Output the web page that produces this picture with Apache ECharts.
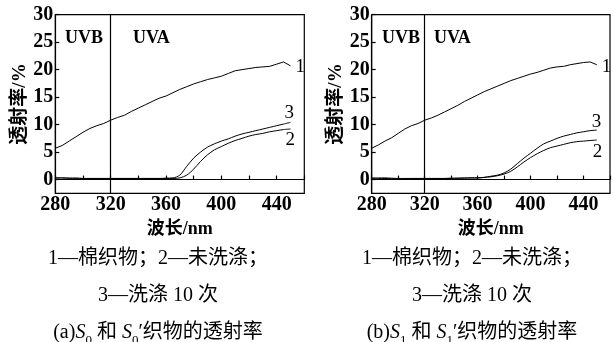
<!DOCTYPE html>
<html lang="zh">
<head>
    <meta charset="UTF-8">
    <title>透射率</title>
    <script src="https://cdn.jsdelivr.net/npm/echarts@6.0.0/dist/echarts.min.js"></script>
    <style>
        * {
            margin: 0;
            padding: 0
        }

        html, body {
            width: 100%;
            height: 100%;
            background: #fff;
        }

        #main {
            width: 613px;
            height: 342px;
        }
    </style>
</head>
<body>
<div id="main"></div>
<script type="text/javascript">
    // 波长 (nm)
    var waveLen = [280, 285, 290, 295, 300, 305, 310, 315, 320, 325, 330, 335, 340, 345, 350, 355, 360,
        365, 370, 375, 380, 385, 390, 395, 400, 405, 410, 415, 420, 425, 430, 435, 440, 445, 450];

    // (a) S0 / S0'
    var cottonA = [5.7, 6.2, 7.0, 7.8, 8.6, 9.3, 9.8, 10.2, 10.8, 11.3, 11.7, 12.4, 13.0, 13.6, 14.2, 14.8, 15.2,
        15.8, 16.4, 16.9, 17.4, 17.8, 18.2, 18.5, 18.8, 19.3, 19.8, 20.0, 20.2, 20.4, 20.5, 20.6, 21.0, 21.4, 20.7];
    var unwashedA = [0.3, 0.3, 0.25, 0.25, 0.2, 0.2, 0.2, 0.2, 0.2, 0.2, 0.2, 0.2, 0.2, 0.2, 0.2, 0.2, 0.2,
        0.2, 0.3, 0.8, 1.9, 3.3, 4.5, 5.4, 6.0, 6.6, 7.1, 7.5, 7.9, 8.2, 8.4, 8.7, 8.9, 9.1, 9.2];
    var washedA = [0.3, 0.3, 0.25, 0.25, 0.2, 0.2, 0.2, 0.2, 0.2, 0.2, 0.2, 0.2, 0.2, 0.2, 0.2, 0.2, 0.25,
        0.3, 0.8, 2.4, 3.9, 5.0, 5.9, 6.5, 7.0, 7.4, 7.9, 8.3, 8.6, 8.9, 9.2, 9.5, 9.8, 10.1, 10.4];

    // (b) S1 / S1'
    var cottonB = [5.7, 6.3, 7.0, 7.6, 8.4, 9.2, 9.8, 10.2, 10.8, 11.2, 11.7, 12.3, 12.9, 13.5, 14.2, 14.8, 15.4,
        16.0, 16.5, 17.0, 17.5, 18.0, 18.4, 18.8, 19.2, 19.5, 19.9, 20.3, 20.5, 20.6, 20.9, 21.1, 21.3, 21.4, 20.9];
    var unwashedB = [0.2, 0.2, 0.2, 0.15, 0.15, 0.15, 0.2, 0.2, 0.2, 0.2, 0.2, 0.2, 0.2, 0.25, 0.25, 0.3, 0.3,
        0.4, 0.5, 0.7, 1.0, 1.5, 2.3, 3.2, 4.0, 4.7, 5.3, 5.8, 6.1, 6.4, 6.7, 6.9, 7.0, 7.1, 7.2];
    var washedB = [0.3, 0.3, 0.3, 0.25, 0.2, 0.2, 0.2, 0.2, 0.2, 0.2, 0.2, 0.2, 0.25, 0.25, 0.3, 0.3, 0.3,
        0.4, 0.6, 0.8, 1.2, 1.9, 2.9, 3.9, 4.8, 5.7, 6.5, 7.0, 7.5, 7.9, 8.2, 8.5, 8.7, 8.9, 9.0];

    var xTicks = [280, 320, 360, 400, 440];
    var yTicks = [0, 5, 10, 15, 20, 25, 30];
    var uvBorder = 320;

    var serif = '"Liberation Serif", "Times New Roman", serif';
    var mixed = '"Liberation Serif", "Noto Sans CJK SC", serif';

    function makeX(idx) {
        return {
            type: 'value', gridIndex: idx, min: 280, max: 460, interval: 20,
            name: '波长/nm', nameLocation: 'middle', nameGap: 16,
            nameTextStyle: {fontFamily: mixed, fontWeight: 'bold', fontSize: 18, color: '#000'},
            axisLine: {lineStyle: {color: '#000', width: 1.2}},
            axisTick: {inside: true, length: 4, lineStyle: {color: '#000', width: 1.2}},
            axisLabel: {
                color: '#000', fontFamily: serif, fontWeight: 'bold', fontSize: 20, margin: 2,
                formatter: function (v) {
                    return xTicks.indexOf(v) >= 0 ? String(v) : '';
                }
            },
            splitLine: {show: false}
        };
    }

    function makeY(idx) {
        return {
            type: 'value', gridIndex: idx, min: -2.5, max: 30,
            name: '透射率/%', nameLocation: 'middle', nameGap: 25,
            nameTextStyle: {fontFamily: mixed, fontWeight: 'bold', fontSize: 19, color: '#000'},
            axisLine: {lineStyle: {color: '#000', width: 1.2}},
            axisTick: {inside: true, length: 4, customValues: yTicks, lineStyle: {color: '#000', width: 1.2}},
            axisLabel: {color: '#000', fontFamily: serif, fontWeight: 'bold', fontSize: 20, margin: 2, customValues: yTicks},
            splitLine: {show: false}
        };
    }

    function line(idx, vals, lbl, off, withBorder) {
        var s = {
            type: 'line', xAxisIndex: idx, yAxisIndex: idx,
            data: waveLen.map(function (w, i) {
                return [w, vals[i]];
            }),
            symbol: 'none', smooth: lbl === '1' ? false : 0.3,
            lineStyle: {color: '#000', width: 1},
            endLabel: {show: true, formatter: lbl, offset: off, fontFamily: serif, fontSize: 19, color: '#000'},
            animation: false
        };
        if (withBorder) {
            s.markLine = {
                symbol: 'none', silent: true, label: {show: false},
                lineStyle: {color: '#000', width: 1.2, type: 'solid'},
                data: [{xAxis: uvBorder}]
            };
        }
        return s;
    }

    function caption(cx, tag, n) {
        var base = {fontFamily: mixed, fontSize: 20, fill: '#000'};
        var rich = {
            t: {fontFamily: mixed, fontSize: 20, color: '#000', lineHeight: 22},
            i: {fontFamily: serif, fontStyle: 'italic', fontSize: 20, color: '#000', lineHeight: 22},
            s: {fontFamily: serif, fontSize: 13, color: '#000', lineHeight: 28, verticalAlign: 'bottom'}
        };
        return [
            {type: 'text', x: cx, y: 259, style: Object.assign({text: '1—棉织物；2—未洗涤；', align: 'center', verticalAlign: 'middle'}, base)},
            {type: 'text', x: cx, y: 296, style: Object.assign({text: '3—洗涤 10 次', align: 'center', verticalAlign: 'middle'}, base)},
            {
                type: 'text', x: cx, y: 333, style: {
                    text: '{t|(' + tag + ')}{i|S}{s|' + n + '}{t| 和 }{i|S}{s|' + n + '}{t|′织物的透射率}',
                    align: 'center', verticalAlign: 'middle', rich: rich
                }
            }
        ];
    }

    var uvStyle = {fontFamily: serif, fontWeight: 'bold', fontSize: 18, fill: '#000'};

    var myChart = echarts.init(document.getElementById('main'));
    myChart.setOption({
        backgroundColor: '#fff',
        animation: false,
        grid: [
            {left: 55.3, top: 14.7, width: 249, height: 178.6, show: true, borderColor: '#000', borderWidth: 1.2},
            {left: 371.7, top: 14.7, width: 243.7, height: 178.6, show: true, borderColor: '#000', borderWidth: 1.2}
        ],
        xAxis: [makeX(0), makeX(1)],
        yAxis: [makeY(0), makeY(1)],
        series: [
            line(0, cottonA, '1', [-3, 1], true),
            line(0, unwashedA, '2', [-13, 11], false),
            line(0, washedA, '3', [-14, -9], false),
            line(1, cottonB, '1', [-3, 2], true),
            line(1, unwashedB, '2', [-12, 12], false),
            line(1, washedB, '3', [-13, -8], false)
        ],
        graphic: [
            {type: 'text', x: 65, y: 38, style: Object.assign({text: 'UVB', verticalAlign: 'middle'}, uvStyle)},
            {type: 'text', x: 133, y: 38, style: Object.assign({text: 'UVA', verticalAlign: 'middle'}, uvStyle)},
            {type: 'text', x: 382, y: 38, style: Object.assign({text: 'UVB', verticalAlign: 'middle'}, uvStyle)},
            {type: 'text', x: 434, y: 38, style: Object.assign({text: 'UVA', verticalAlign: 'middle'}, uvStyle)}
        ].concat(caption(158, 'a', '0'), caption(472, 'b', '1'))
    });
</script>
</body>
</html>
